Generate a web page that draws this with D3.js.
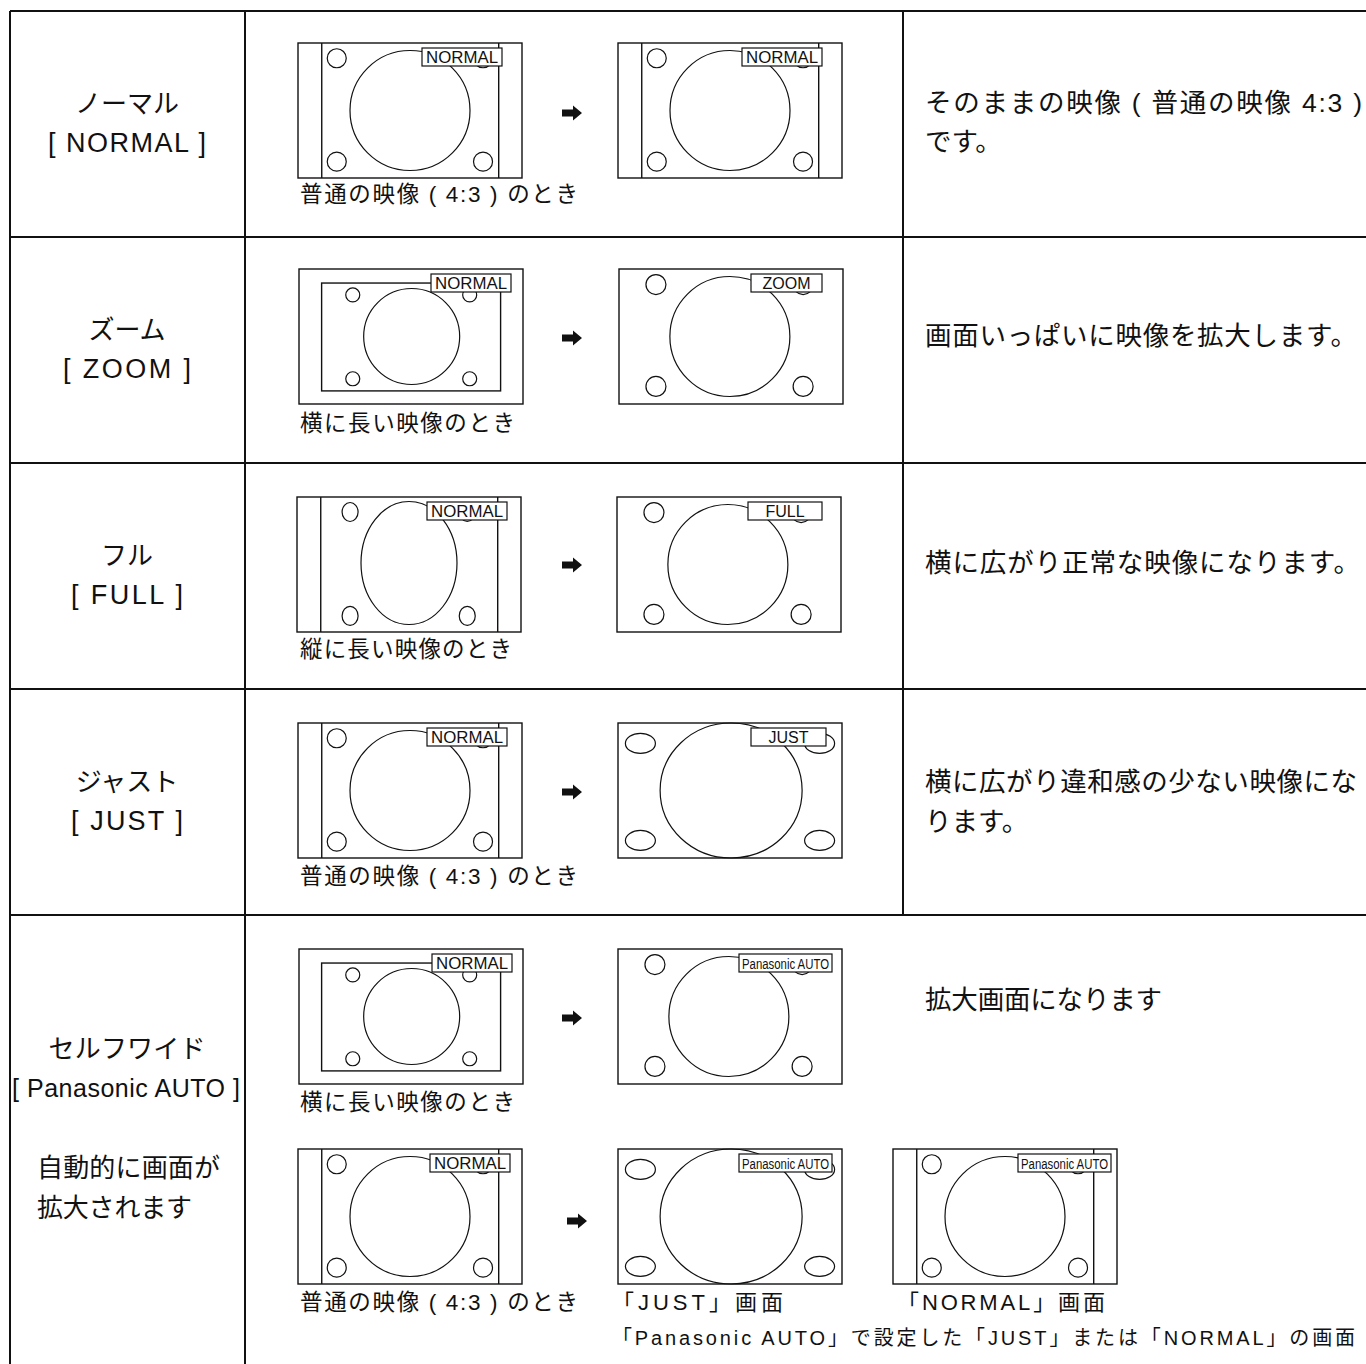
<!DOCTYPE html>
<html><head><meta charset="utf-8">
<script src="https://cdn.jsdelivr.net/npm/d3@7/dist/d3.min.js"></script>
<style>html,body{margin:0;padding:0;background:#fff;}svg{display:block;}</style>
</head><body>
<script>
// ---------- data ----------
const modeNames = ["ノーマル", "ズーム", "フル", "ジャスト", "セルフワイド"];
const modeCodes = ["[ NORMAL ]", "[ ZOOM ]", "[ FULL ]", "[ JUST ]", "[ Panasonic AUTO ]"];
const descriptions = [
  ["そのままの映像 ( 普通の映像  4:3 )", "です。"],
  ["画面いっぱいに映像を拡大します。"],
  ["横に広がり正常な映像になります。"],
  ["横に広がり違和感の少ない映像にな", "ります。"],
  ["拡大画面になります"]
];
const autoNote = ["自動的に画面が", "拡大されます"];
const sourceCaptions = ["普通の映像 ( 4:3 ) のとき", "横に長い映像のとき", "縦に長い映像のとき",
                        "普通の映像 ( 4:3 ) のとき", "横に長い映像のとき", "普通の映像 ( 4:3 ) のとき"];
const resultCaptions = ["「JUST」画面", "「NORMAL」画面"];
const footNote = "「Panasonic AUTO」で設定した「JUST」または「NORMAL」の画面";
// each diagram row: [source picture, result picture(s)] with the on-screen label
const sourcePictures = ["pillar", "letterbox", "tall", "pillar", "letterbox", "pillar"];
const sourceLabels   = ["NORMAL", "NORMAL", "NORMAL", "NORMAL", "NORMAL", "NORMAL"];
const resultPictures = [["pillar"], ["wide"], ["wide"], ["just"], ["wide"], ["just", "pillar"]];
const resultLabels   = [["NORMAL"], ["ZOOM"], ["FULL"], ["JUST"], ["Panasonic AUTO"], ["Panasonic AUTO", "Panasonic AUTO"]];

// ---------- layout ----------
const W = 1366, H = 1364;
const svg = d3.select("body").append("svg").attr("width", W).attr("height", H);
const FONT = "'Liberation Sans', Arial, 'Noto Sans CJK JP', sans-serif";
const JFONT = "'Noto Sans CJK JP', 'Liberation Sans', sans-serif";

const rowY = d3.scaleLinear().domain([0, 1]).range([11, 237]); // row index -> top
const colX = [10, 245, 903];

// table grid
const grid = svg.append("g").attr("stroke", "#111").attr("stroke-width", 2).attr("fill", "none");
[0, 1, 2, 3, 4].forEach(i => grid.append("line").attr("x1", colX[0]).attr("x2", W).attr("y1", rowY(i)).attr("y2", rowY(i)));
grid.append("line").attr("x1", colX[0]).attr("x2", colX[0]).attr("y1", rowY(0)).attr("y2", H);
grid.append("line").attr("x1", colX[1]).attr("x2", colX[1]).attr("y1", rowY(0)).attr("y2", H);
grid.append("line").attr("x1", colX[2]).attr("x2", colX[2]).attr("y1", rowY(0)).attr("y2", rowY(4));

function text(x, y, s, o = {}) {
  const t = svg.append("text").attr("x", x).attr("y", y).text(s)
    .attr("font-family", o.family || FONT).attr("font-size", o.size || 26)
    .attr("fill", "#111").attr("text-anchor", o.anchor || "start");
  if (o.len) t.attr("textLength", o.len).attr("lengthAdjust", o.adjust || "spacing");
  return t;
}

// left column labels (center x 127)
modeNames.slice(0, 4).forEach((n, i) => {
  text(127, rowY(i) + 102, n, {anchor: "middle", family: JFONT, size: 26});
  text(127, rowY(i) + 141, modeCodes[i], {anchor: "middle", size: 27, len: [158, 128, 112, 112][i]});
});
text(127, 1058, modeNames[4], {anchor: "middle", family: JFONT, size: 26, len: 157});
text(126, 1097, modeCodes[4], {anchor: "middle", size: 25, len: 228});
text(37, 1177, autoNote[0], {family: JFONT, size: 26, len: 183});
text(37, 1217, autoNote[1], {family: JFONT, size: 26, len: 155});

// descriptions
const descY = [[112, 151], [345], [572], [791, 831], [1009]];
const descLen = [[437, null], [432], [435], [432, null], [237]];
descriptions.forEach((lines, i) => lines.forEach((s, j) => {
  text(925, descY[i][j], s, {size: 26.5, len: descLen[i][j] || null});
}));

// ---------- screens ----------
const SW = 224, SH = 135;
const screenPos = [
  [[298, 43], [618, 43]],
  [[299, 269], [619, 269]],
  [[297, 497], [617, 497]],
  [[298, 723], [618, 723]],
  [[299, 949], [618, 949]],
  [[298, 1149], [618, 1149], [893, 1149]]
];
const labelBox = { // label box width
  "NORMAL": 80, "ZOOM": 71, "FULL": 74, "JUST": 75, "Panasonic AUTO": 93
};
const labelRight = [[204, 204], [212, 203], [210, 205], [209, 208], [213, 214], [212, 214, 218]];

function drawScreen(x0, y0, kind, label, right) {
  const g = svg.append("g");
  const sx = d3.scaleLinear().domain([0, 1]).range([x0, x0 + SW]);
  const sy = d3.scaleLinear().domain([0, 1]).range([y0, y0 + SH]);
  const el = (cx, cy, rx, ry, w) => g.append("ellipse").attr("cx", sx(cx)).attr("cy", sy(cy))
      .attr("rx", rx).attr("ry", ry).attr("stroke", "#111").attr("fill", "none").attr("stroke-width", w || 1.2);
  g.append("rect").attr("x", sx(0)).attr("y", sy(0)).attr("width", SW).attr("height", SH)
    .attr("stroke", "#111").attr("fill", "#fff").attr("stroke-width", 1.4);
  if (kind === "pillar" || kind === "tall") {
    [0.106, 0.896].forEach(f => g.append("line").attr("x1", sx(f)).attr("x2", sx(f))
      .attr("y1", sy(0)).attr("y2", sy(1)).attr("stroke", "#111").attr("stroke-width", 1.4));
  }
  if (kind === "pillar") {
    el(0.5, 0.5, 60, 60);
    [[0.173, 0.113], [0.826, 0.113], [0.173, 0.879], [0.826, 0.879]].forEach(p => el(p[0], p[1], 9.5, 9.5));
  } else if (kind === "tall") {
    el(0.5, 0.489, 48, 61.5);
    [[0.237, 0.111], [0.76, 0.111], [0.237, 0.881], [0.76, 0.881]].forEach(p => el(p[0], p[1], 8, 9.5));
  } else if (kind === "letterbox") {
    g.append("rect").attr("x", sx(0.101)).attr("y", sy(0.104)).attr("width", sx(0.9) - sx(0.101))
      .attr("height", sy(0.903) - sy(0.104)).attr("stroke", "#111").attr("fill", "none").attr("stroke-width", 1.4);
    el(0.503, 0.5, 48, 48);
    [[0.24, 0.192], [0.762, 0.192], [0.24, 0.813], [0.762, 0.813]].forEach(p => el(p[0], p[1], 7, 7));
  } else if (kind === "wide") {
    el(0.495, 0.5, 60, 60);
    [[0.165, 0.115], [0.822, 0.115], [0.165, 0.87], [0.822, 0.87]].forEach(p => el(p[0], p[1], 10, 10));
  } else if (kind === "just") {
    el(0.505, 0.5, 71, 67.5);
    [[0.1, 0.151], [0.9, 0.151], [0.1, 0.87], [0.9, 0.87]].forEach(p => el(p[0], p[1], 15, 10));
  }
  const w = labelBox[label];
  const bx = x0 + right - w, by = y0 + 5;
  g.append("rect").attr("x", bx).attr("y", by).attr("width", w).attr("height", 18)
    .attr("fill", "#fff").attr("stroke", "#111").attr("stroke-width", 1.2);
  const t = g.append("text").attr("x", bx + w / 2).attr("y", by + 15).attr("text-anchor", "middle")
    .attr("font-family", FONT).attr("font-size", 16).attr("fill", "#111").text(label);
  if (label === "Panasonic AUTO") t.attr("font-size", 15.5).attr("textLength", w - 6).attr("lengthAdjust", "spacingAndGlyphs");
  else if (label === "NORMAL") t.attr("textLength", w - 8).attr("lengthAdjust", "spacingAndGlyphs");
}

screenPos.forEach((row, i) => {
  drawScreen(row[0][0], row[0][1], sourcePictures[i], sourceLabels[i], labelRight[i][0]);
  row.slice(1).forEach((p, j) => drawScreen(p[0], p[1], resultPictures[i][j], resultLabels[i][j], labelRight[i][j + 1]));
});

// arrows
const arrowPos = [[572, 113], [572, 338], [572, 565], [572, 792], [572, 1018], [577, 1221]];
arrowPos.forEach(([cx, cy]) => {
  svg.append("path").attr("fill", "#111")
    .attr("d", `M${cx - 10},${cy - 3.5} L${cx + 1},${cy - 3.5} L${cx + 1},${cy - 7.5} L${cx + 10},${cy} L${cx + 1},${cy + 7.5} L${cx + 1},${cy + 3.5} L${cx - 10},${cy + 3.5} Z`);
});

// captions under source screens
const capY = [202, 431, 657, 884, 1110, 1310];
const capLen = [278, 215, 212, 278, 215, 278];
sourceCaptions.forEach((s, i) => text(300, capY[i], s, {size: 22.5, len: capLen[i]}));
text(612, 1310, resultCaptions[0], {size: 22, len: 171});
text(897, 1310, resultCaptions[1], {size: 22, len: 208});
text(612, 1345, footNote, {size: 20, len: 743});
</script>
</body></html>
